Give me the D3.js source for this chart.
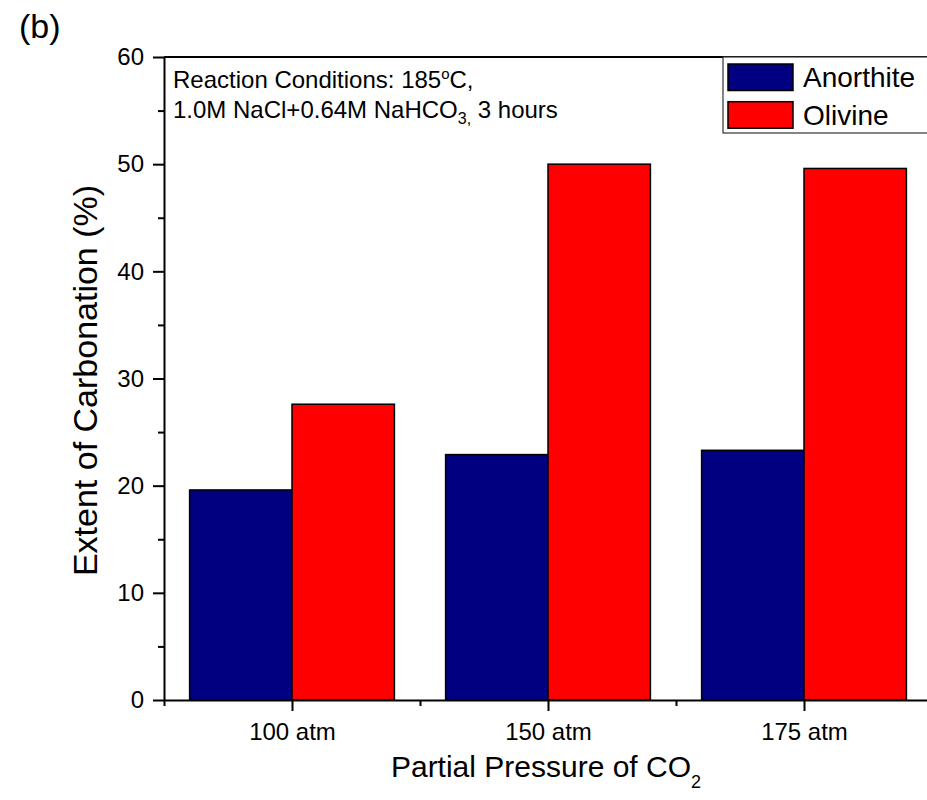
<!DOCTYPE html>
<html>
<head>
<meta charset="utf-8">
<script src="https://cdn.jsdelivr.net/npm/d3@7"></script>
<style>
  html, body { margin: 0; padding: 0; background: #fff; }
  svg { display: block; font-family: "Liberation Sans", Arial, sans-serif; }
</style>
</head>
<body>
<svg id="chart" width="927" height="800"></svg>
<script>
// ---- Data ----
const categories = ["100 atm", "150 atm", "175 atm"];
const seriesNames = ["Anorthite", "Olivine"];
const anorthite = [19.6, 22.9, 23.3];
const olivine = [27.6, 50.0, 49.6];
const yTicks = [0, 10, 20, 30, 40, 50, 60];
const yMinorTicks = [5, 15, 25, 35, 45, 55];
const colors = ["#000080", "#FF0000"];

(function () {
// ---- Layout ----
const svg = d3.select("#chart");
const mLeft = 164, mRight = 932, mTop = 57, mBottom = 700;

const x = d3.scaleLinear().domain([0.5, categories.length + 0.5]).range([mLeft, mRight]);
const y = d3.scaleLinear().domain([0, 60]).range([mBottom, mTop]);
const barW = 0.4; // in category units

const values = [anorthite, olivine];

// bars
values.forEach((vals, s) => {
  svg.append("g").selectAll("rect")
    .data(vals)
    .join("rect")
    .attr("x", (d, i) => x(i + 1 + (s === 0 ? -barW : 0)))
    .attr("width", x(1 + barW) - x(1))
    .attr("y", d => y(d))
    .attr("height", d => y(0) - y(d))
    .attr("fill", colors[s])
    .attr("stroke", "#000")
    .attr("stroke-width", 1.5);
});

// frame top / right
svg.append("line").attr("x1", mLeft).attr("x2", mRight).attr("y1", mTop).attr("y2", mTop)
  .attr("stroke", "#000").attr("stroke-width", 2);
svg.append("line").attr("x1", mRight).attr("x2", mRight).attr("y1", mTop).attr("y2", mBottom)
  .attr("stroke", "#000").attr("stroke-width", 2);

// y axis
svg.append("g").attr("transform", `translate(${mLeft},0)`)
  .call(d3.axisLeft(y).tickValues(yTicks).tickSize(11).tickSizeOuter(0).tickPadding(9).tickFormat(d3.format("d")));
svg.append("g").attr("transform", `translate(${mLeft},0)`)
  .call(d3.axisLeft(y).tickValues(yMinorTicks).tickSize(6).tickSizeOuter(0).tickFormat(""))
  .select(".domain").remove();

// x axis
svg.append("g").attr("transform", `translate(0,${mBottom})`)
  .call(d3.axisBottom(x).tickValues(categories.map((c, i) => i + 1)).tickSize(11).tickSizeOuter(0).tickPadding(12)
    .tickFormat((d) => categories[d - 1]));
svg.append("g").attr("transform", `translate(0,${mBottom})`)
  .call(d3.axisBottom(x).tickValues(d3.range(0.5, categories.length + 1, 1)).tickSize(6).tickSizeOuter(0).tickFormat(""))
  .select(".domain").remove();

svg.selectAll(".domain").attr("stroke-width", 2).attr("stroke", "#000");
svg.selectAll(".tick line").attr("stroke-width", 2).attr("stroke", "#000");
svg.selectAll(".tick text").attr("font-size", 24).attr("fill", "#000")
  .attr("font-family", '"Liberation Sans", Arial, sans-serif');

// axis titles
const xt = svg.append("text").attr("x", 546).attr("y", 777)
  .attr("text-anchor", "middle").attr("font-size", 30).attr("fill", "#000");
xt.append("tspan").text("Partial Pressure of CO");
xt.append("tspan").attr("font-size", 18).attr("dy", 11).text("2");

svg.append("text")
  .attr("transform", `translate(97,380.5) rotate(-90)`)
  .attr("text-anchor", "middle").attr("font-size", 34).attr("fill", "#000")
  .text("Extent of Carbonation (%)");

// panel label
svg.append("text").attr("x", 19).attr("y", 38).attr("font-size", 34).attr("fill", "#000").text("(b)");

// annotation
const a1 = svg.append("text").attr("x", 173).attr("y", 88).attr("font-size", 24).attr("fill", "#000");
a1.append("tspan").text("Reaction Conditions: 185");
a1.append("tspan").attr("font-size", 15).attr("dy", -9).text("o");
a1.append("tspan").attr("dy", 9).text("C,");
const a2 = svg.append("text").attr("x", 173).attr("y", 118).attr("font-size", 24).attr("fill", "#000");
a2.append("tspan").text("1.0M NaCl+0.64M NaHCO");
a2.append("tspan").attr("font-size", 16).attr("dy", 6).text("3,");
a2.append("tspan").attr("dy", -6).text(" 3 hours");

// legend
const lg = svg.append("g");
lg.append("rect").attr("x", 723).attr("y", 57).attr("width", 260).attr("height", 76)
  .attr("fill", "#fff").attr("stroke", "#333").attr("stroke-width", 1.2);
seriesNames.forEach((name, i) => {
  const yy = 64 + i * 37.7;
  lg.append("rect").attr("x", 728).attr("y", yy).attr("width", 65).attr("height", 26.5)
    .attr("fill", colors[i]).attr("stroke", "#000").attr("stroke-width", 1.5);
  lg.append("text").attr("x", 803).attr("y", yy + 23).attr("font-size", 28).attr("fill", "#000").text(name);
});
})();
</script>
</body>
</html>
